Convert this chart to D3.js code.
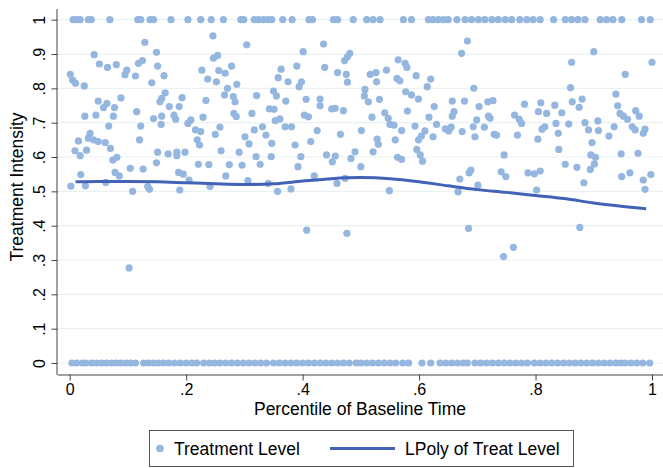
<!DOCTYPE html>
<html>
<head>
<meta charset="utf-8">
<script src="https://cdn.jsdelivr.net/npm/d3@7"></script>
<style>
  body { margin: 0; background: #fff; }
  svg text { font-family: "Liberation Sans", Arial, sans-serif; fill: #000; }
</style>
</head>
<body>
<div id="graph"></div>
<script>
// observations in the middle band: [percentile, intensity]
const midPoints = [
  [.129,.934],[.042,.898],[.051,.871],[.065,.861],[.080,.869],[.118,.873],[.125,.881],[.098,.853],[.095,.840],[.113,.836],
  [.001,.841],[.005,.824],[.010,.815],[.025,.807],[.141,.816],[.049,.763],[.064,.756],[.058,.744],[.077,.744],[.088,.772],
  [.115,.732],[.026,.719],[.045,.722],[.075,.719],[.144,.712],[.067,.690],[.122,.690],[.015,.647],[.035,.669],[.032,.655],
  [.041,.650],[.049,.645],[.061,.642],[.070,.625],[.009,.618],[.018,.604],[.029,.620],[.120,.650],[.081,.599],[.074,.591],
  [.104,.567],[.126,.565],[.078,.555],[.085,.545],[.019,.549],[.002,.515],[.027,.516],[.062,.526],[.108,.500],[.134,.514],
  [.137,.506],[.102,.277],
  [.246,.953],[.304,.927],[.149,.905],[.151,.865],[.162,.837],[.247,.888],[.254,.896],[.227,.853],[.237,.827],[.252,.819],
  [.256,.852],[.267,.844],[.278,.865],[.287,.812],[.271,.800],[.266,.781],[.281,.776],[.284,.761],[.321,.779],[.164,.787],
  [.158,.771],[.155,.761],[.193,.773],[.188,.747],[.171,.747],[.234,.765],[.179,.722],[.182,.710],[.158,.719],[.157,.695],
  [.229,.716],[.208,.708],[.203,.698],[.216,.679],[.225,.674],[.219,.650],[.223,.635],[.250,.666],[.258,.687],[.282,.727],
  [.286,.718],[.313,.727],[.317,.679],[.301,.659],[.308,.638],[.151,.614],[.169,.609],[.184,.614],[.198,.614],[.184,.604],
  [.260,.618],[.291,.614],[.320,.601],[.149,.583],[.221,.579],[.239,.578],[.274,.578],[.296,.576],[.187,.555],[.195,.550],
  [.205,.533],[.268,.545],[.189,.504],[.241,.514],[.306,.531],
  [.436,.929],[.401,.907],[.481,.902],[.477,.892],[.472,.881],[.363,.856],[.390,.865],[.438,.861],[.358,.831],[.375,.819],
  [.398,.819],[.394,.805],[.460,.846],[.475,.841],[.477,.818],[.350,.792],[.355,.778],[.371,.763],[.406,.768],[.430,.769],
  [.430,.749],[.450,.740],[.456,.742],[.470,.735],[.343,.740],[.351,.739],[.403,.722],[.410,.717],[.353,.706],[.361,.711],
  [.370,.688],[.381,.688],[.331,.688],[.337,.664],[.347,.640],[.387,.635],[.414,.645],[.425,.677],[.465,.666],[.346,.601],
  [.397,.601],[.327,.579],[.392,.572],[.441,.606],[.456,.603],[.451,.586],[.483,.596],[.490,.615],[.420,.545],[.341,.523],
  [.357,.500],[.380,.507],[.459,.523],[.473,.538],[.407,.387],[.476,.378],
  [.564,.883],[.576,.873],[.579,.861],[.544,.853],[.516,.841],[.526,.846],[.527,.819],[.562,.829],[.567,.822],[.595,.837],
  [.620,.827],[.614,.805],[.507,.797],[.506,.778],[.513,.761],[.532,.768],[.577,.790],[.587,.781],[.599,.769],[.657,.763],
  [.626,.747],[.660,.732],[.657,.719],[.541,.729],[.547,.713],[.550,.695],[.557,.693],[.519,.716],[.580,.734],[.570,.677],
  [.593,.690],[.617,.716],[.630,.695],[.645,.682],[.651,.676],[.655,.687],[.624,.659],[.610,.676],[.604,.661],[.599,.650],
  [.501,.677],[.528,.652],[.530,.637],[.559,.650],[.521,.615],[.596,.622],[.602,.606],[.606,.588],[.563,.599],[.570,.593],
  [.500,.572],[.549,.502],
  [.683,.938],[.673,.902],[.694,.800],[.678,.763],[.703,.747],[.718,.761],[.727,.764],[.719,.719],[.722,.713],[.699,.708],
  [.693,.688],[.696,.659],[.712,.687],[.674,.674],[.729,.666],[.733,.664],[.746,.606],[.764,.722],[.772,.710],[.776,.698],
  [.781,.754],[.769,.664],[.809,.758],[.805,.732],[.819,.727],[.833,.751],[.835,.698],[.816,.688],[.811,.681],[.804,.652],
  [.839,.669],[.840,.622],[.689,.562],[.686,.554],[.670,.536],[.667,.499],[.701,.518],[.741,.557],[.749,.543],[.787,.554],
  [.798,.551],[.808,.559],[.802,.504],[.685,.392],[.762,.337],[.745,.310],
  [.900,.907],[.862,.876],[.954,.841],[1.0,.876],[.860,.802],[.863,.761],[.880,.769],[.875,.745],[.845,.729],[.938,.783],
  [.941,.749],[.945,.727],[.951,.719],[.958,.710],[.972,.735],[.978,.719],[.857,.696],[.885,.700],[.907,.705],[.891,.679],
  [.908,.677],[.935,.688],[.926,.661],[.966,.688],[.971,.679],[.988,.681],[.985,.669],[.897,.642],[.895,.606],[.903,.599],
  [.901,.580],[.894,.564],[.851,.579],[.871,.570],[.947,.609],[.976,.611],[.883,.525],[.948,.543],[.962,.554],[.985,.533],
  [.998,.549],[.988,.506],[.876,.395]
];

// observations with intensity 1 (percentile only)
const onePoints = [
  .006,.012,.018,.032,.037,.069,.117,.122,.138,.144,.174,.203,.225,.243,.264,.294,.299,.317,.324,.333,
  .341,.347,.366,.382,.411,.417,.453,.460,.487,.510,.521,.533,.573,.587,.616,.624,.633,.642,.650,.665,
  .679,.690,.702,.713,.725,.736,.748,.759,.773,.785,.796,.808,.831,.851,.862,.873,.885,.911,.922,.933,
  .948,.982,.997
];

// observations with intensity 0 (percentile only)
const zeroPoints = [
  .004,.012,.022,.028,.038,.046,.055,.063,.072,.080,.088,.097,.105,.113,.127,.135,.144,.152,.161,.170,
  .180,.190,.200,.210,.218,.230,.240,.249,.258,.268,.278,.288,.298,.308,.318,.328,.338,.350,.360,.370,
  .380,.390,.400,.410,.420,.430,.440,.450,.460,.470,.480,.492,.500,.510,.520,.530,.540,.550,.560,.572,
  .582,.605,.620,.636,.646,.656,.666,.676,.683,.696,.706,.716,.726,.736,.746,.756,.766,.776,.786,.798,
  .808,.818,.828,.838,.848,.858,.868,.878,.888,.898,.908,.918,.928,.938,.946,.954,.964,.974,.984,.996
];

// local polynomial smooth
const lpolyX = [.01,.05,.10,.15,.20,.25,.30,.35,.40,.45,.50,.55,.60,.65,.70,.75,.80,.85,.90,.95,.99];
const lpolyY = [.528,.529,.529,.528,.525,.522,.520,.522,.530,.537,.540,.537,.528,.516,.505,.497,.488,.479,.466,.456,.449];

const xTicks = [0, .2, .4, .6, .8, 1];
const yTicks = [0, .1, .2, .3, .4, .5, .6, .7, .8, .9, 1];
const tickLabel = v => v === 0 ? '0' : v === 1 ? '1' : String(v).replace(/^0/, '');

const width = 663, height = 468;
const margin = { top: 9, right: 0, bottom: 93, left: 58 };
const dotColor = '#94b6df';
const lineColor = '#4262b8';

const svg = d3.select('#graph').append('svg')
    .attr('width', width)
    .attr('height', height);

const scaleX = d3.scaleLinear().domain([0, 1]).range([69.7, 652]);
const scaleY = d3.scaleLinear().domain([0, 1]).range([363, 19.7]);
const plotBottom = height - margin.bottom;

// grid lines
svg.append('g')
    .selectAll('line')
    .data(yTicks)
    .enter().append('line')
        .attr('x1', margin.left)
        .attr('x2', width)
        .attr('y1', d => scaleY(d))
        .attr('y2', d => scaleY(d))
        .attr('stroke', '#eaf1f3')
        .attr('stroke-width', 1.2);

// scatter
const allPoints = midPoints
    .concat(onePoints.map(x => [x, 1]))
    .concat(zeroPoints.map(x => [x, 0]));

svg.append('g')
    .selectAll('circle')
    .data(allPoints)
    .enter().append('circle')
        .attr('r', 3.6)
        .attr('cx', d => scaleX(d[0]))
        .attr('cy', d => scaleY(d[1]))
        .attr('fill', dotColor);

// lpoly line
const line = d3.line()
    .x((d, i) => scaleX(lpolyX[i]))
    .y(d => scaleY(d))
    .curve(d3.curveMonotoneX);

svg.append('path')
    .datum(lpolyY)
    .attr('d', line)
    .attr('fill', 'none')
    .attr('stroke', lineColor)
    .attr('stroke-width', 3);

// axes
const xAxis = svg.append('g')
    .attr('transform', 'translate(0,' + (plotBottom - 0.5) + ')')
    .call(d3.axisBottom(scaleX).tickValues(xTicks).tickFormat(tickLabel).tickSize(6).tickPadding(3).tickSizeOuter(0));
xAxis.select('.domain').attr('d', 'M' + margin.left + ',0.5H' + width).attr('stroke', '#444');
xAxis.selectAll('.tick line').attr('stroke', '#444');
xAxis.selectAll('text').attr('font-size', 16).attr('fill', '#000');

const yAxis = svg.append('g')
    .attr('transform', 'translate(' + (margin.left - 0.5) + ',0)')
    .call(d3.axisLeft(scaleY).tickValues(yTicks).tickFormat(tickLabel).tickSize(6).tickSizeOuter(0));
yAxis.select('.domain').attr('d', 'M-0.5,' + margin.top + 'V' + plotBottom).attr('stroke', '#444');
yAxis.selectAll('.tick line').attr('stroke', '#444');
yAxis.selectAll('text')
    .attr('font-size', 16)
    .attr('fill', '#000')
    .attr('x', 0).attr('dy', 0)
    .attr('text-anchor', 'middle')
    .attr('transform', 'translate(-13,0) rotate(-90)');

// axis titles
svg.append('text')
    .attr('x', 360)
    .attr('y', 415)
    .attr('text-anchor', 'middle')
    .attr('font-size', 17.5)
    .text('Percentile of Baseline Time');

svg.append('text')
    .attr('transform', 'translate(23,187) rotate(-90)')
    .attr('text-anchor', 'middle')
    .attr('font-size', 17.5)
    .text('Treatment Intensity');

// legend
const legend = svg.append('g');
legend.append('rect')
    .attr('x', 149.5).attr('y', 430.5)
    .attr('width', 424).attr('height', 36)
    .attr('fill', '#fff')
    .attr('stroke', '#555');
legend.append('circle')
    .attr('cx', 160).attr('cy', 448.5).attr('r', 3.8)
    .attr('fill', dotColor);
legend.append('text')
    .attr('x', 174).attr('y', 455)
    .attr('font-size', 17.5)
    .text('Treatment Level');
legend.append('line')
    .attr('x1', 330).attr('x2', 395)
    .attr('y1', 448.5).attr('y2', 448.5)
    .attr('stroke', lineColor)
    .attr('stroke-width', 3);
legend.append('text')
    .attr('x', 405).attr('y', 455)
    .attr('font-size', 17.5)
    .text('LPoly of Treat Level');
</script>
</body>
</html>
